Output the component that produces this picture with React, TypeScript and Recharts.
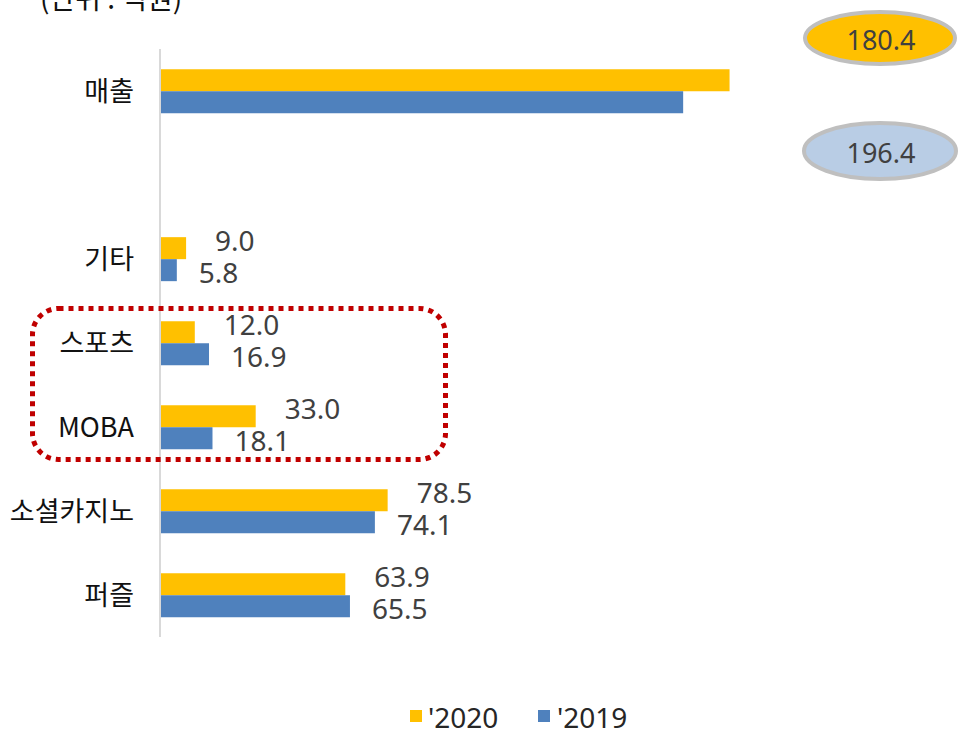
import { BarChart, Bar, XAxis, YAxis, LabelList } from 'recharts';

const CATEGORIES = ['매출', '', '기타', '스포츠', 'MOBA', '소셜카지노', '퍼즐'];
const VALUES_2020 = [196.4, null, 9.0, 12.0, 33.0, 78.5, 63.9];
const VALUES_2019 = [180.4, null, 5.8, 16.9, 18.1, 74.1, 65.5];
const SERIES_NAMES = ["'2020", "'2019"];
const SERIES_COLORS = ['#FFC000', '#4F81BD'];
const SALES_CALLOUTS = ['180.4', '196.4'];
const UNIT_NOTE = '(단위 : 억원)';

const data = CATEGORIES.map((name, i) => ({
    name,
    y2020: VALUES_2020[i],
    y2019: VALUES_2019[i],
}));

const LABEL_FONT = '"Noto Sans", "Open Sans", sans-serif';
const KR_FONT = '"Noto Sans CJK KR", "Noto Sans", sans-serif';

function makeValueLabel(dx: number, dy: number) {
    return (props: any) => {
        const { x, y, width, height, value, index } = props;
        // 매출 values are shown in the callout ovals instead
        if (value == null || index === 0) return null;
        return (
            <text
                x={Number(x) + Number(width) + dx}
                y={Number(y) + Number(height) / 2 + dy}
                dominantBaseline="central"
                fill="#404040"
                fontSize={28}
                fontFamily={LABEL_FONT}
            >
                {Number(value).toFixed(1)}
            </text>
        );
    };
}

export default function App() {
    return (
        <div style={{ position: 'fixed', left: 0, top: 0, width: 960, height: 729, background: '#fff', overflow: 'hidden' }}>
            <BarChart
                width={960}
                height={729}
                data={data}
                layout="vertical"
                margin={{ top: 49, right: 220, bottom: 92, left: 0 }}
                barCategoryGap="24%"
                barGap={0}
            >
                <XAxis type="number" domain={[0, 200]} hide />
                <YAxis
                    type="category"
                    dataKey="name"
                    width={160}
                    tickSize={0}
                    tickMargin={26}
                    axisLine={{ stroke: '#D9D9D9', strokeWidth: 2 }}
                    tickLine={false}
                    tick={{ fill: '#111', fontSize: 27, fontFamily: KR_FONT }}
                />
                <Bar dataKey="y2020" fill={SERIES_COLORS[0]} isAnimationActive={false}>
                    <LabelList dataKey="y2020" content={makeValueLabel(29, -8)} />
                </Bar>
                <Bar dataKey="y2019" fill={SERIES_COLORS[1]} isAnimationActive={false}>
                    <LabelList dataKey="y2019" content={makeValueLabel(22, 2)} />
                </Bar>
            </BarChart>

            <svg width={960} height={729} style={{ position: 'absolute', left: 0, top: 0, pointerEvents: 'none' }}>
                <text x={40} y={9} fontSize={28} fill="#111" fontFamily={KR_FONT}>{UNIT_NOTE}</text>

                {/* callouts for 매출 */}
                <ellipse cx={880} cy={38} rx={75} ry={26} fill={SERIES_COLORS[0]} stroke="#BFBFBF" strokeWidth={4} />
                <text x={881} y={39} textAnchor="middle" dominantBaseline="central" fontSize={27} fill="#404040" fontFamily={LABEL_FONT}>
                    {SALES_CALLOUTS[0]}
                </text>
                <ellipse cx={880} cy={151} rx={76} ry={28} fill="#B9CDE5" stroke="#BFBFBF" strokeWidth={4} />
                <text x={881} y={152} textAnchor="middle" dominantBaseline="central" fontSize={27} fill="#404040" fontFamily={LABEL_FONT}>
                    {SALES_CALLOUTS[1]}
                </text>

                {/* dotted highlight box */}
                <rect x={32.5} y={308.5} width={413} height={151} rx={26} fill="none" stroke="#C00000" strokeWidth={5} strokeDasharray="5 5" />

                {/* legend */}
                <rect x={410} y={710} width={12} height={12} fill={SERIES_COLORS[0]} />
                <text x={428} y={717} dominantBaseline="central" fontSize={28} fill="#262626" fontFamily={LABEL_FONT}>{SERIES_NAMES[0]}</text>
                <rect x={538} y={710} width={12} height={12} fill={SERIES_COLORS[1]} />
                <text x={557} y={717} dominantBaseline="central" fontSize={28} fill="#262626" fontFamily={LABEL_FONT}>{SERIES_NAMES[1]}</text>
            </svg>
        </div>
    );
}
